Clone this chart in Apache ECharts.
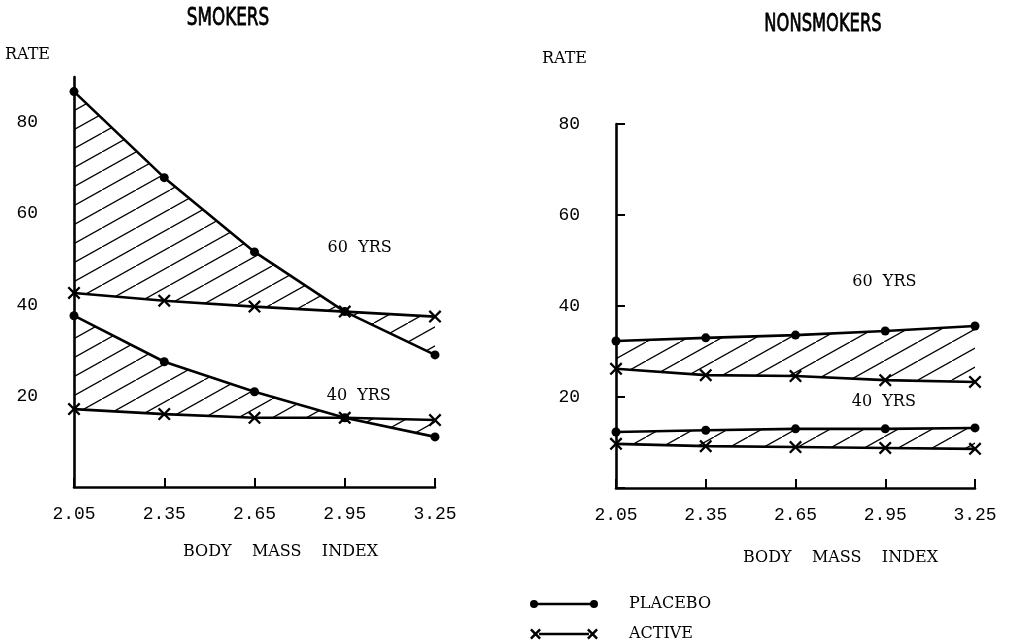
<!DOCTYPE html>
<html>
<head>
<meta charset="utf-8">
<script src="https://cdn.jsdelivr.net/npm/echarts@6/dist/echarts.min.js"></script>
<style>html,body{margin:0;padding:0;background:#fff;}#c{width:1017px;height:641px;}</style>
</head>
<body>
<div id="c"></div>
<script>
// ---- data ----
const bmi = [2.05, 2.35, 2.65, 2.95, 3.25];
const xTickLabels = ['2.05', '2.35', '2.65', '2.95', '3.25'];
const smk60Placebo = [86.8, 67.9, 51.6, 38.5, 29.0];
const smk60Active  = [42.6, 40.9, 39.6, 38.5, 37.4];
const smk40Placebo = [37.6, 27.5, 20.9, 15.2, 11.0];
const smk40Active  = [17.1, 16.0, 15.2, 15.2, 14.7];
const non60Placebo = [32.3, 33.0, 33.6, 34.5, 35.6];
const non60Active  = [26.2, 24.8, 24.6, 23.7, 23.3];
const non40Placebo = [12.3, 12.7, 13.0, 13.0, 13.2];
const non40Active  = [9.7, 9.2, 9.0, 8.8, 8.6];
const yTickLabels = [20, 40, 60, 80];
const panelTitles = ['SMOKERS', 'NONSMOKERS'];
const ageLabels = ['60  YRS', '40  YRS'];
const legendNames = ['PLACEBO', 'ACTIVE'];
// label anchor positions in data units [bmi, rate]
const smkAgeLabelPos = [[2.893, 52.5], [2.89, 20.0]];
const nonAgeLabelPos = [[2.84, 45.3], [2.838, 19.0]];

// ---- hatch pattern ----
function makeHatch() {
  const w = 34, h = 19;
  const c = document.createElement('canvas');
  c.width = w; c.height = h;
  const g = c.getContext('2d');
  g.strokeStyle = '#000';
  g.lineWidth = 1.3;
  g.beginPath();
  g.moveTo(-w, 2 * h); g.lineTo(2 * w, -h);
  g.stroke();
  return c;
}
const hatch = { image: makeHatch(), repeat: 'repeat' };

const monoFont = "'Liberation Mono', 'DejaVu Sans Mono', monospace";
const serifFont = "'DejaVu Serif', 'Liberation Serif', serif";
const titleFont = "'DejaVu Sans', 'Liberation Sans', sans-serif";
const xSymbol = 'path://M0,1.5L1.5,0L6,4.5L10.5,0L12,1.5L7.5,6L12,10.5L10.5,12L6,7.5L1.5,12L0,10.5L4.5,6Z';
const placeboIcon = 'path://M0,5.5A4,4,0,1,1,8,5.5A4,4,0,1,1,0,5.5Z M6,4.2L62,4.2L62,6.8L6,6.8Z M60,5.5A4,4,0,1,1,68,5.5A4,4,0,1,1,60,5.5Z';
const activeIcon = 'path://M0,1.8L1.8,0L5.5,3.7L9.2,0L11,1.8L7.3,5.5L11,9.2L9.2,11L5.5,7.3L1.8,11L0,9.2L3.7,5.5Z M9,4.2L59,4.2L59,6.8L9,6.8Z M57,1.8L58.8,0L62.5,3.7L66.2,0L68,1.8L64.3,5.5L68,9.2L66.2,11L62.5,7.3L58.8,11L57,9.2L60.7,5.5Z';

function pairs(xs, ys) { return xs.map((x, i) => [x, ys[i]]); }

function bandSeries(idx, P, A) {
  return {
    type: 'custom', xAxisIndex: idx, yAxisIndex: idx, silent: true, z: 1,
    data: [[bmi[0], A[0]]],
    renderItem: function (params, api) {
      const top = bmi.map((x, i) => api.coord([x, P[i]]));
      const bot = bmi.map((x, i) => api.coord([x, A[i]])).reverse();
      return { type: 'polygon', shape: { points: top.concat(bot) }, style: { fill: hatch, stroke: null } };
    }
  };
}

function panelSeries(idx, P60, A60, P40, A40, labelPos) {
  const out = [];
  [[P60, A60], [P40, A40]].forEach(([P, A], k) => {
    out.push(bandSeries(idx, P, A));
    out.push({
      name: legendNames[0], type: 'line', xAxisIndex: idx, yAxisIndex: idx,
      data: pairs(bmi, P), symbol: 'circle', symbolSize: 9, showAllSymbol: true,
      lineStyle: { color: '#000', width: 2.6 }, itemStyle: { color: '#000', borderWidth: 0 }, z: 5
    });
    out.push({
      name: legendNames[1], type: 'line', xAxisIndex: idx, yAxisIndex: idx,
      data: pairs(bmi, A), symbol: xSymbol, symbolSize: 13, showAllSymbol: true,
      lineStyle: { color: '#000', width: 2.6 }, itemStyle: { color: '#000', borderWidth: 0 }, z: 5,
      markPoint: {
        symbol: 'circle', symbolSize: 0, silent: true,
        label: { show: true, position: 'right', distance: 0, color: '#000',
          fontFamily: serifFont, fontSize: 16, formatter: p => p.name },
        data: [{ name: ageLabels[k], coord: labelPos[k] }]
      }
    });
  });
  return out;
}

function xAxisCfg(idx, nameShift, nameGap) {
  return {
    type: 'value', gridIndex: idx, min: 2.05, max: 3.25, interval: 0.3,
    axisLine: { lineStyle: { color: '#000', width: 2.6 } },
    axisTick: { show: true, inside: true, length: 9, lineStyle: { color: '#000', width: 2 } },
    splitLine: { show: false },
    axisLabel: { color: '#000', fontFamily: monoFont, fontSize: 18, margin: 18,
      formatter: v => { const i = bmi.findIndex(b => Math.abs(b - v) < 1e-6); return i >= 0 ? xTickLabels[i] : ''; } },
    name: 'BODY    MASS    INDEX', nameLocation: 'middle', nameGap: nameGap,
    nameTextStyle: { color: '#000', fontFamily: serifFont, fontSize: 16, padding: [0, 0, 0, nameShift] }
  };
}

function yAxisCfg(idx, max, showTicks, nameGap, namePad) {
  return {
    type: 'value', gridIndex: idx, min: 0, max: max, interval: 20,
    axisLine: { show: true, lineStyle: { color: '#000', width: 2.6 } },
    axisTick: { show: showTicks, inside: true, length: 9, lineStyle: { color: '#000', width: 2 } },
    splitLine: { show: false },
    axisLabel: { color: '#000', fontFamily: monoFont, fontSize: 18, margin: 36,
      formatter: v => yTickLabels.indexOf(v) >= 0 ? String(v) : '' },
    name: 'RATE', nameLocation: 'end', nameGap: nameGap,
    nameTextStyle: { color: '#000', fontFamily: serifFont, fontSize: 16, align: 'right', padding: [0, namePad, 0, 0] }
  };
}

function legendCfg(name, icon, top) {
  return {
    orient: 'vertical', left: 530, top: top, padding: 0, itemWidth: 68, itemHeight: 11,
    textStyle: { color: '#000', fontFamily: serifFont, fontSize: 16, padding: [0, 0, 0, 26] },
    selectedMode: false,
    data: [{ name: name, icon: icon }]
  };
}

const chart = echarts.init(document.getElementById('c'), null, { renderer: 'canvas' });
chart.setOption({
  backgroundColor: '#fff',
  animation: false,
  graphic: [
    { type: 'text', x: 228, y: 19, scaleX: 0.7, silent: true,
      style: { text: panelTitles[0], fill: '#000', stroke: '#000', lineWidth: 0.8, font: "24px " + titleFont, textAlign: 'center', textVerticalAlign: 'middle' } },
    { type: 'text', x: 823, y: 25, scaleX: 0.68, silent: true,
      style: { text: panelTitles[1], fill: '#000', stroke: '#000', lineWidth: 0.8, font: "24px " + titleFont, textAlign: 'center', textVerticalAlign: 'middle' } }
  ],
  grid: [
    { left: 74, top: 77, width: 361, height: 410 },
    { left: 616, top: 124, width: 359, height: 364 }
  ],
  xAxis: [xAxisCfg(0, 52, 57), xAxisCfg(1, 90, 62)],
  yAxis: [yAxisCfg(0, 90, false, 14, 24), yAxisCfg(1, 80, true, 57, 29)],
  legend: [
    legendCfg(legendNames[0], placeboIcon, 596),
    legendCfg(legendNames[1], activeIcon, 626)
  ],
  series: [].concat(
    panelSeries(0, smk60Placebo, smk60Active, smk40Placebo, smk40Active, smkAgeLabelPos),
    panelSeries(1, non60Placebo, non60Active, non40Placebo, non40Active, nonAgeLabelPos)
  )
});
</script>
</body>
</html>
